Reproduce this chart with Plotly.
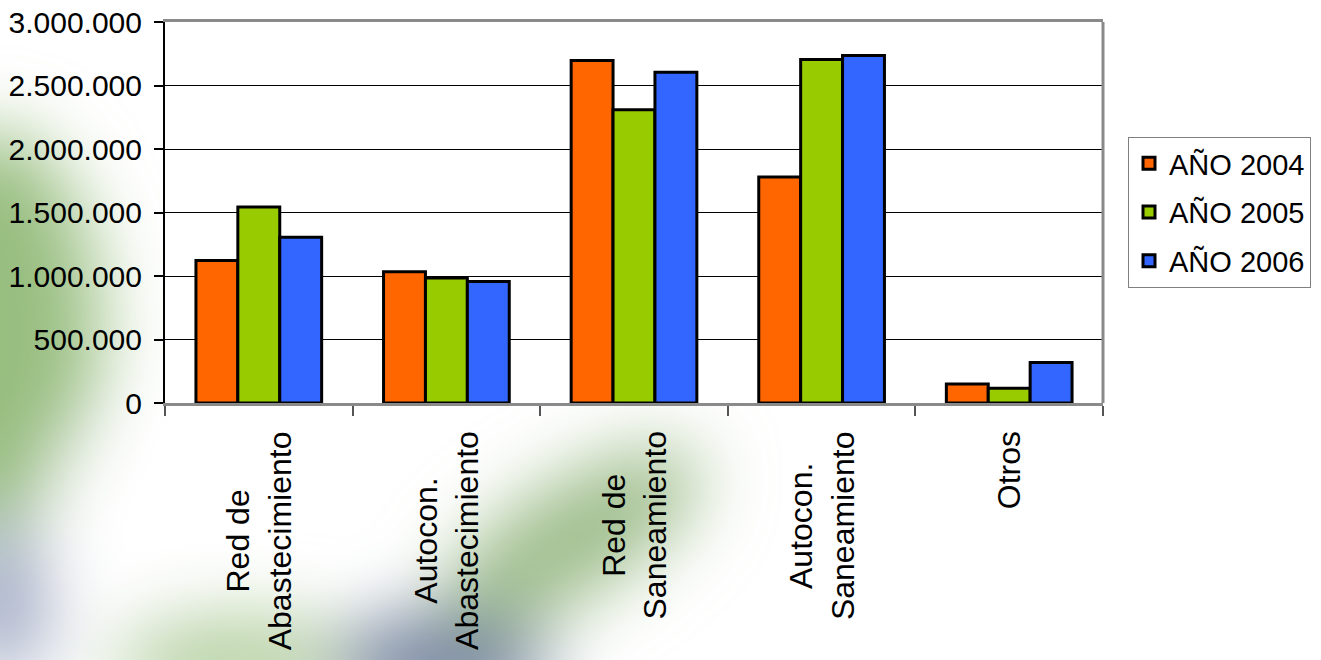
import base64
import plotly.graph_objects as go

# ---- data ----
categories = ["Red de Abastecimiento", "Autocon. Abastecimiento", "Red de Saneamiento",
              "Autocon. Saneamiento", "Otros"]
tick_labels = ["Red de<br>Abastecimiento", "Autocon.<br>Abastecimiento", "Red de<br>Saneamiento",
               "Autocon.<br>Saneamiento", "Otros"]
series_names = ["AÑO 2004", "AÑO 2005", "AÑO 2006"]
y2004 = [1122000, 1034000, 2696000, 1779000, 150000]
y2005 = [1543000, 984000, 2310000, 2704000, 116000]
y2006 = [1306000, 957000, 2604000, 2736000, 318000]
series_values = [y2004, y2005, y2006]
colors = ["#FF6600", "#99CC00", "#3366FF"]

FONT = "Liberation Sans, Arial, Helvetica, sans-serif"

W, H = 1321, 660
L, R, T, B = 165, 218, 22, 257
pw, ph = W - L - R, H - T - B

# ---- decorative background (blurred blobs), as an SVG image ----
svg = f'''<svg xmlns="http://www.w3.org/2000/svg" width="{W}" height="{H}" viewBox="0 0 {W} {H}">
<defs><filter id="b" x="-50%" y="-50%" width="200%" height="200%"><feGaussianBlur stdDeviation="38"/></filter></defs>
<rect width="{W}" height="{H}" fill="#ffffff"/>
<g filter="url(#b)">
<ellipse cx="-10" cy="330" rx="110" ry="200" fill="#98be80"/>
<ellipse cx="0" cy="600" rx="50" ry="80" fill="#a2abc4"/>
<ellipse cx="230" cy="660" rx="120" ry="45" fill="#b3cf9f"/>
<ellipse cx="570" cy="540" rx="150" ry="55" fill="#9bbb88" transform="rotate(-32 570 540)"/>
<ellipse cx="440" cy="665" rx="110" ry="50" fill="#74829f"/>
<ellipse cx="120" cy="520" rx="55" ry="95" fill="#ffffff" transform="rotate(-25 120 520)"/>
</g>
<rect x="{L}" y="{T}" width="{pw}" height="{ph}" fill="#ffffff"/>
</svg>'''
bg_src = "data:image/svg+xml;base64," + base64.b64encode(svg.encode("utf-8")).decode("ascii")

fig = go.Figure()
for name, vals, col in zip(series_names, series_values, colors):
    fig.add_trace(go.Bar(
        x=categories, y=vals, name=name, legendgroup=name,
        marker=dict(color=col, line=dict(color="#000000", width=3)),
    ))

annotations = []
for cat, lab in zip(categories, tick_labels):
    annotations.append(dict(
        x=cat, xref="x", y=0, yref="paper", yanchor="top", xanchor="center",
        yshift=-26, text=lab, textangle=-90, showarrow=False, align="center",
        font=dict(family=FONT, size=32, color="#000000"),
    ))

fig.update_layout(
    template="none",
    width=W, height=H, autosize=False,
    margin=dict(l=L, r=R, t=T, b=B, pad=0, autoexpand=False),
    paper_bgcolor="#ffffff", plot_bgcolor="#ffffff",
    separators=",.",
    barmode="group", bargap=0.33, bargroupgap=0,
    font=dict(family=FONT, size=30, color="#000000"),
    showlegend=True,
    legend=dict(
        x=(1128 - L) / pw, y=(403 - 137) / ph, xanchor="left", yanchor="top",
        bgcolor="#ffffff", bordercolor="#808080", borderwidth=1,
        font=dict(family=FONT, size=29, color="#000000"),
        tracegroupgap=8,
    ),
    xaxis=dict(
        type="category", showgrid=False, showticklabels=False, automargin=False,
        showline=True, linecolor="#8a8a8a", linewidth=3, mirror=True,
        ticks="outside", tickson="boundaries", ticklen=10, tickcolor="#555555", tickwidth=1.5,
    ),
    yaxis=dict(
        range=[0, 3000000], dtick=500000, tick0=0, tickformat=",.0f", automargin=False,
        showgrid=True, gridcolor="#000000", gridwidth=1, zeroline=False,
        showline=True, linecolor="#000000", linewidth=2,
        ticks="outside", ticklen=9, tickcolor="#000000", tickwidth=1.5,
        ticklabelstandoff=6,
        tickfont=dict(family=FONT, size=30, color="#000000"),
    ),
    annotations=annotations,
    shapes=[dict(type="line", xref="paper", yref="paper", x0=1, x1=1, y0=0, y1=1,
                 line=dict(color="#8a8a8a", width=3))],
    images=[dict(source=bg_src, xref="paper", yref="paper",
                 x=-L / pw, y=1 + T / ph, sizex=W / pw, sizey=H / ph,
                 xanchor="left", yanchor="top", sizing="stretch", layer="below")],
)

fig.write_html(
    "out.html",
    config={"responsive": False, "displayModeBar": False},
    post_script="document.body.style.margin='0';document.body.style.padding='0';"
                "document.documentElement.style.overflow='hidden';",
)
